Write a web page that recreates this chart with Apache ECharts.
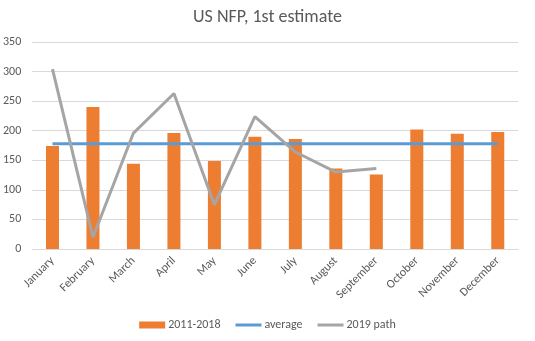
<!DOCTYPE html>
<html>
<head>
<meta charset="utf-8">
<script src="https://cdn.jsdelivr.net/npm/echarts@6/dist/echarts.min.js"></script>
<style>
  html, body { margin: 0; padding: 0; background: #fff; }
  #chart { width: 535px; height: 341px; }
</style>
</head>
<body>
<div id="chart"></div>
<script>
// Monthly payroll gains (thousands), first print
const months = ['January', 'February', 'March', 'April', 'May', 'June',
  'July', 'August', 'September', 'October', 'November', 'December'];
const avg2011to2018 = [174, 240, 144, 196, 149, 190, 186, 136, 126, 202, 195, 198];
const overallAverage = [178, 178, 178, 178, 178, 178, 178, 178, 178, 178, 178, 178];
const path2019 = [304, 20, 196, 263, 75, 224, 164, 130, 136, null, null, null];
const yTicks = { min: 0, max: 350, interval: 50 };

const font = 'Carlito, Calibri, "Open Sans", "Liberation Sans", sans-serif';
const textGray = '#595959';
// thin bar centred in a 26x7 box, used as the legend key for line series
const lineKey = 'path://M0,0L0,0M0,2L26,2L26,5L0,5ZM26,7L26,7';

const chart = echarts.init(document.getElementById('chart'), null, { renderer: 'canvas' });
chart.setOption({
  animation: false,
  backgroundColor: '#ffffff',
  title: {
    text: 'US NFP, 1st estimate',
    left: 'center',
    top: 3,
    textStyle: { fontFamily: font, fontSize: 18, fontWeight: 'normal', color: textGray }
  },
  grid: { left: 32, right: 17, top: 42, bottom: 92 },
  legend: {
    bottom: 5,
    left: 'center',
    itemGap: 15,
    itemWidth: 26,
    itemHeight: 7,
    textStyle: { fontFamily: font, fontSize: 12, color: textGray, padding: [0, 0, 0, -2] },
    data: [
      { name: '2011-2018', icon: 'rect' },
      { name: 'average', icon: lineKey },
      { name: '2019 path', icon: lineKey }
    ]
  },
  xAxis: {
    type: 'category',
    data: months,
    axisLine: { lineStyle: { color: '#D9D9D9' } },
    axisTick: { show: false },
    axisLabel: { rotate: 45, fontFamily: font, fontSize: 12, color: textGray, margin: 10, interval: 0 }
  },
  yAxis: {
    type: 'value',
    min: yTicks.min,
    max: yTicks.max,
    interval: yTicks.interval,
    axisLine: { show: false },
    axisTick: { show: false },
    axisLabel: { fontFamily: font, fontSize: 12, color: textGray, margin: 11 },
    splitLine: { lineStyle: { color: '#D9D9D9', width: 1 } }
  },
  series: [
    {
      name: '2011-2018',
      type: 'bar',
      data: avg2011to2018,
      barWidth: 13,
      itemStyle: { color: '#ED7D31' }
    },
    {
      name: 'average',
      type: 'line',
      data: overallAverage,
      symbol: 'none',
      lineStyle: { color: '#5B9BD5', width: 3 },
      itemStyle: { color: '#5B9BD5' }
    },
    {
      name: '2019 path',
      type: 'line',
      data: path2019,
      symbol: 'none',
      lineStyle: { color: '#A5A5A5', width: 3 },
      itemStyle: { color: '#A5A5A5' }
    }
  ]
});
</script>
</body>
</html>
